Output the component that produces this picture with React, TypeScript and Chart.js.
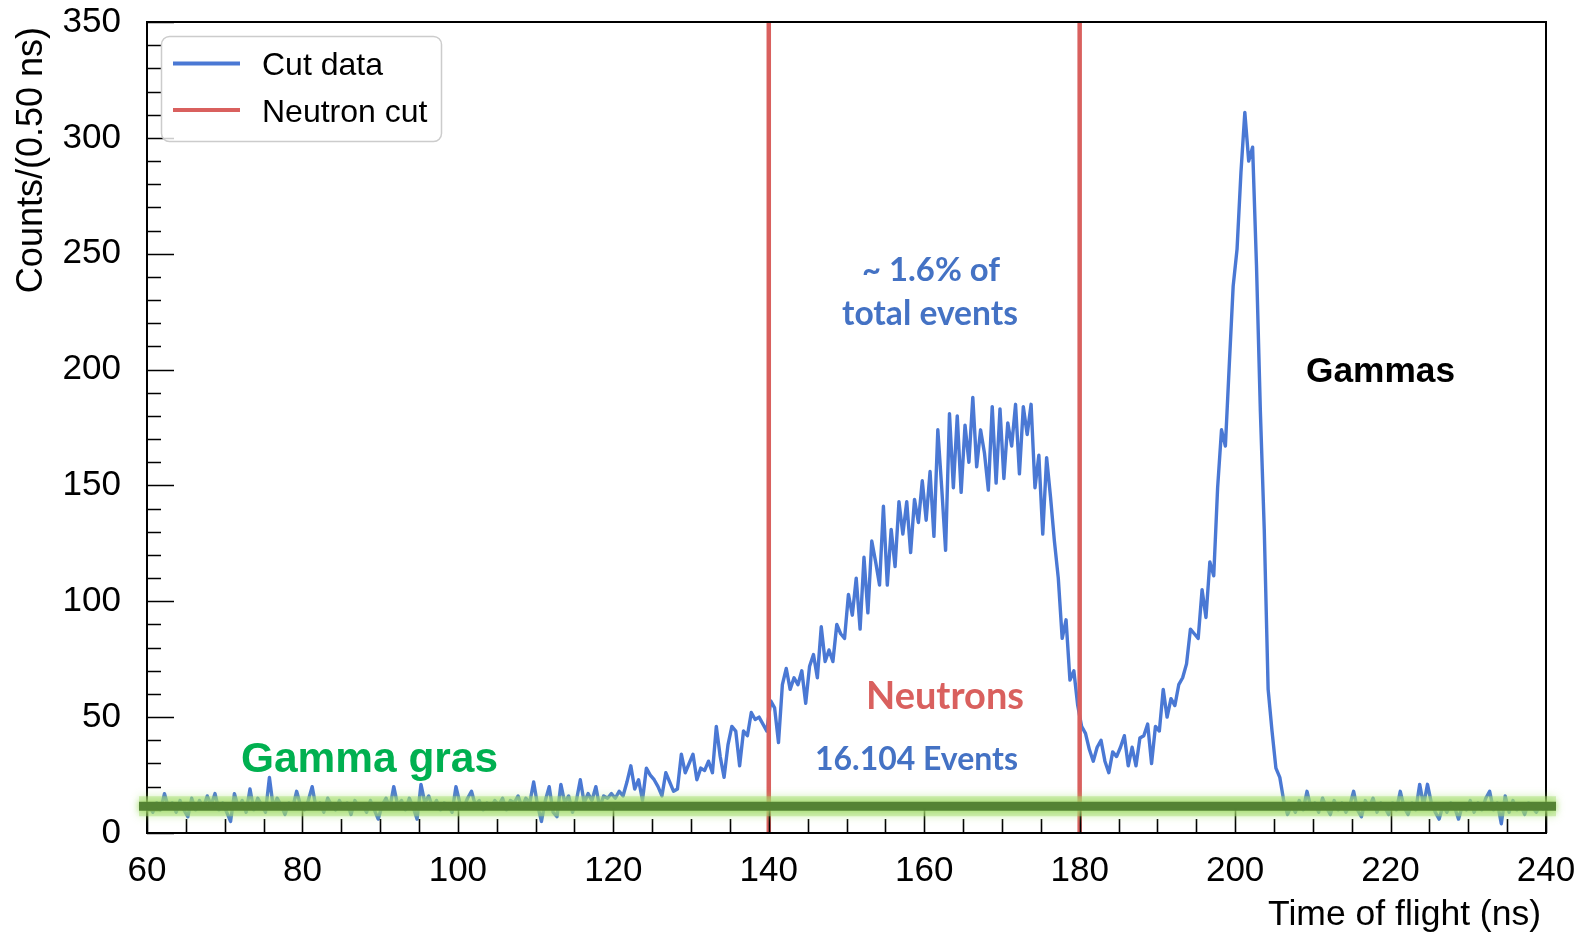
import React, { useEffect, useRef } from "react";
import { Chart, registerables } from "chart.js";

Chart.register(...registerables);

// ---------------- data ----------------
const BIN_START = 60; // ns
const BIN_WIDTH = 0.5; // ns  (Counts/(0.50 ns))

const COUNTS_060_080 = [12, 9, 13, 10, 17, 11, 13, 9, 14, 10, 7, 15, 10, 14, 11, 16, 12, 17, 10, 13, 9, 5, 17, 11, 14, 9, 19, 10, 15, 12, 9, 24, 11, 15, 12, 8, 13, 11, 18, 12];
const COUNTS_080_100 = [10, 14, 20, 11, 13, 9, 15, 12, 10, 14, 11, 13, 8, 14, 11, 12, 9, 14, 10, 6, 12, 15, 11, 20, 12, 14, 10, 15, 11, 6, 21, 13, 16, 11, 14, 10, 13, 12, 9, 20];
const COUNTS_100_120 = [13, 11, 15, 18, 12, 14, 10, 13, 11, 14, 12, 15, 10, 14, 13, 16, 11, 15, 13, 22, 12, 5, 14, 20, 9, 7, 21, 13, 16, 9, 14, 23, 13, 17, 14, 20, 11, 16, 15, 17];
const COUNTS_120_140 = [15, 18, 16, 22, 29, 19, 23, 14, 28, 25, 23, 20, 16, 26, 22, 18, 19, 34, 26, 30, 34, 23, 28, 27, 31, 26, 46, 33, 24, 38, 46, 44, 29, 44, 42, 52, 49, 50, 47, 44];
const COUNTS_140_160 = [57, 54, 39, 64, 71, 62, 67, 64, 70, 56, 72, 77, 67, 89, 74, 79, 74, 90, 86, 84, 103, 94, 110, 88, 119, 95, 126, 117, 107, 141, 107, 131, 115, 143, 129, 143, 121, 144, 134, 152];
const COUNTS_160_180 = [135, 156, 128, 174, 149, 122, 181, 149, 180, 147, 176, 160, 188, 158, 174, 164, 148, 184, 151, 183, 153, 177, 167, 185, 155, 184, 172, 185, 149, 163, 129, 162, 145, 126, 110, 84, 92, 66, 70, 55];
const COUNTS_180_200 = [46, 43, 36, 31, 37, 40, 31, 26, 35, 33, 37, 42, 29, 37, 29, 41, 42, 47, 30, 46, 44, 62, 50, 58, 55, 64, 67, 73, 88, 86, 84, 105, 93, 117, 111, 149, 174, 167, 202, 236];
const COUNTS_200_220 = [252, 285, 311, 290, 296, 245, 182, 131, 62, 44, 28, 24, 14, 8, 12, 9, 14, 10, 18, 11, 13, 9, 15, 11, 8, 14, 10, 13, 9, 12, 18, 10, 7, 14, 11, 15, 9, 13, 11, 8];
const COUNTS_220_240 = [13, 10, 18, 11, 8, 13, 10, 21, 12, 21, 13, 9, 6, 12, 9, 13, 11, 6, 12, 10, 14, 9, 13, 10, 15, 18, 10, 13, 4, 16, 9, 14, 10, 12, 8, 13, 11, 9, 12, 10];

const COUNTS = [
  ...COUNTS_060_080, ...COUNTS_080_100, ...COUNTS_100_120,
  ...COUNTS_120_140, ...COUNTS_140_160, ...COUNTS_160_180,
  ...COUNTS_180_200, ...COUNTS_200_220, ...COUNTS_220_240,
];

const CUT_EDGES = [140, 180]; // ns, neutron cut
const X_MIN = 60, X_MAX = 240, Y_MIN = 0, Y_MAX = 350;
const X_MAJOR_TICKS = [60, 80, 100, 120, 140, 160, 180, 200, 220, 240];
const X_MINOR_TICKS = [65, 70, 75, 85, 90, 95, 105, 110, 115, 125, 130, 135, 145, 150, 155, 165, 170, 175, 185, 190, 195, 205, 210, 215, 225, 230, 235];
const Y_MAJOR_TICKS = [0, 50, 100, 150, 200, 250, 300, 350];
const Y_MINOR_TICKS = [10, 20, 30, 40, 60, 70, 80, 90, 110, 120, 130, 140, 160, 170, 180, 190, 210, 220, 230, 240, 260, 270, 280, 290, 310, 320, 330, 340];
const GAMMA_BAND_LEVEL = 11.5; // counts, flat gamma background

const SERIES_LABELS = ["Cut data", "Neutron cut"];
const X_TITLE = "Time of flight (ns)";
const Y_TITLE = "Counts/(0.50 ns)";

// ---------------- styles ----------------
const BLUE = "#4a78d4";
const RED = "#d9605e";
const TEXT_BLUE = "#4472c4";
const GREEN_TEXT = "#00b050";
const SANS = "'Liberation Sans', Arial, sans-serif";
const CAL = "Lato, 'Open Sans', sans-serif";

function fitFont(ctx: CanvasRenderingContext2D, text: string, weight: string, family: string, width: number) {
  ctx.font = `${weight} 40px ${family}`;
  const w = ctx.measureText(text).width;
  const size = (40 * width) / w;
  return `${weight} ${size.toFixed(2)}px ${family}`;
}

const overlayPlugin = {
  id: "overlay",
  afterDatasetsDraw(chart: any) {
    const { ctx, chartArea: a, scales } = chart;
    const x = scales.x, y = scales.y;
    ctx.save();

    // tick marks (inside)
    ctx.strokeStyle = "#000";
    ctx.lineWidth = 1.6;
    ctx.beginPath();
    for (const v of X_MAJOR_TICKS) {
      const px = Math.round(x.getPixelForValue(v)) + 0.5;
      ctx.moveTo(px, a.bottom); ctx.lineTo(px, a.bottom - 27);
    }
    for (const v of X_MINOR_TICKS) {
      const px = Math.round(x.getPixelForValue(v)) + 0.5;
      ctx.moveTo(px, a.bottom); ctx.lineTo(px, a.bottom - 14);
    }
    for (const v of Y_MAJOR_TICKS) {
      const py = Math.round(y.getPixelForValue(v)) + 0.5;
      ctx.moveTo(a.left, py); ctx.lineTo(a.left + 27, py);
    }
    for (const v of Y_MINOR_TICKS) {
      const py = Math.round(y.getPixelForValue(v)) + 0.5;
      ctx.moveTo(a.left, py); ctx.lineTo(a.left + 14, py);
    }
    ctx.stroke();

    // frame
    ctx.lineWidth = 2;
    ctx.strokeRect(a.left, a.top, a.right - a.left, a.bottom - a.top);

    // green gamma background band (glow + dark core)
    const yb = y.getPixelForValue(GAMMA_BAND_LEVEL);
    const x0 = a.left - 8, x1 = a.right + 10;
    ctx.save();
    ctx.lineCap = "butt";
    ctx.shadowColor = "rgba(160,220,100,0.9)";
    ctx.shadowBlur = 8;
    ctx.strokeStyle = "rgba(165,220,110,0.45)";
    ctx.lineWidth = 20;
    ctx.beginPath(); ctx.moveTo(x0, yb); ctx.lineTo(x1, yb); ctx.stroke();
    ctx.shadowBlur = 6;
    ctx.strokeStyle = "rgba(82,128,50,0.97)";
    ctx.lineWidth = 9;
    ctx.beginPath(); ctx.moveTo(x0, yb); ctx.lineTo(x1, yb); ctx.stroke();
    ctx.restore();

    // axis titles
    ctx.fillStyle = "#000";
    ctx.font = `35.5px ${SANS}`;
    ctx.textAlign = "right";
    ctx.textBaseline = "alphabetic";
    ctx.fillText(X_TITLE, a.right - 5, 925);
    ctx.save();
    ctx.translate(42, 27);
    ctx.rotate(-Math.PI / 2);
    ctx.font = `36px ${SANS}`;
    ctx.textAlign = "right";
    ctx.fillText(Y_TITLE, 0, 0);
    ctx.restore();

    // annotations
    ctx.textAlign = "center";
    const notes = [
      { t: "~ 1.6% of", c: TEXT_BLUE, f: CAL, w: 138, cx: 931, by: 281 },
      { t: "total events", c: TEXT_BLUE, f: CAL, w: 176, cx: 930, by: 324.5 },
      { t: "Neutrons", c: RED, f: CAL, w: 158, cx: 945, by: 709 },
      { t: "16.104 Events", c: TEXT_BLUE, f: CAL, w: 203, cx: 916.5, by: 770 },
      { t: "Gamma gras", c: GREEN_TEXT, f: SANS, w: 257, cx: 369.5, by: 772 },
      { t: "Gammas", c: "#000", f: SANS, w: 149, cx: 1380.5, by: 382 },
    ];
    for (const n of notes) {
      ctx.font = fitFont(ctx, n.t, "bold", n.f, n.w);
      ctx.fillStyle = n.c;
      ctx.fillText(n.t, n.cx, n.by);
    }

    // legend
    const lx = 161.5, ly = 36.5, lw = 280, lh = 105, r = 8;
    ctx.beginPath();
    ctx.moveTo(lx + r, ly);
    ctx.arcTo(lx + lw, ly, lx + lw, ly + lh, r);
    ctx.arcTo(lx + lw, ly + lh, lx, ly + lh, r);
    ctx.arcTo(lx, ly + lh, lx, ly, r);
    ctx.arcTo(lx, ly, lx + lw, ly, r);
    ctx.closePath();
    ctx.fillStyle = "rgba(255,255,255,0.8)";
    ctx.fill();
    ctx.strokeStyle = "#cccccc";
    ctx.lineWidth = 1.5;
    ctx.stroke();
    const ds = chart.data.datasets;
    const entries = [
      { label: ds[1].label, color: ds[1].borderColor, yl: 63.5, yb: 75 },
      { label: ds[0].label, color: ds[0].borderColor, yl: 110, yb: 121.5 },
    ];
    ctx.textAlign = "left";
    ctx.font = `32px ${SANS}`;
    for (const e of entries) {
      ctx.strokeStyle = e.color;
      ctx.lineWidth = 4;
      ctx.beginPath(); ctx.moveTo(173, e.yl); ctx.lineTo(240, e.yl); ctx.stroke();
      ctx.fillStyle = "#000";
      ctx.fillText(e.label, 262, e.yb);
    }
    ctx.restore();
  },
};

function zeroPadding(s: any) {
  s.paddingTop = 0; s.paddingBottom = 0; s.paddingLeft = 0; s.paddingRight = 0;
}

export default function App() {
  const ref = useRef<HTMLCanvasElement | null>(null);
  useEffect(() => {
    if (!ref.current) return;
    const points = COUNTS.map((c, i) => ({ x: BIN_START + BIN_WIDTH * (i + 0.5), y: c }));
    const cutPoints: any[] = [];
    CUT_EDGES.forEach((e, k) => {
      if (k > 0) cutPoints.push({ x: e, y: null });
      cutPoints.push({ x: e, y: Y_MIN }, { x: e, y: Y_MAX });
    });
    const tickFont = { family: "'Liberation Sans', Arial, sans-serif", size: 35 };
    const chart = new Chart(ref.current, {
      type: "line",
      data: {
        datasets: [
          {
            label: SERIES_LABELS[1],
            data: cutPoints,
            borderColor: RED,
            borderWidth: 4.5,
            pointRadius: 0,
            spanGaps: false,
            order: 0,
          },
          {
            label: SERIES_LABELS[0],
            data: points,
            borderColor: BLUE,
            borderWidth: 3.4,
            borderJoinStyle: "round",
            pointRadius: 0,
            tension: 0,
            order: 1,
          },
        ],
      } as any,
      options: {
        responsive: false,
        animation: false,
        events: [],
        layout: { padding: { top: 22, right: 41, left: 0, bottom: 0 } },
        plugins: { legend: { display: false }, tooltip: { enabled: false } },
        scales: {
          x: {
            type: "linear",
            min: X_MIN,
            max: X_MAX,
            afterBuildTicks: (s: any) => { s.ticks = X_MAJOR_TICKS.map((v) => ({ value: v })); },
            afterFit: (s: any) => { s.height = 103; zeroPadding(s); },
            grid: { display: false, drawTicks: false },
            border: { display: false },
            ticks: { padding: 17, font: tickFont, color: "#000", maxRotation: 0, autoSkip: false, callback: (v: any) => String(v) },
          },
          y: {
            type: "linear",
            min: Y_MIN,
            max: Y_MAX,
            afterBuildTicks: (s: any) => { s.ticks = Y_MAJOR_TICKS.map((v) => ({ value: v })); },
            afterFit: (s: any) => { s.width = 147; zeroPadding(s); },
            grid: { display: false, drawTicks: false },
            border: { display: false },
            ticks: { padding: 26, font: tickFont, color: "#000", autoSkip: false, callback: (v: any) => String(v) },
          },
        },
      } as any,
      plugins: [overlayPlugin],
    });
    return () => chart.destroy();
  }, []);
  return (
    <div style={{ position: "fixed", left: 0, top: 0, width: 1587, height: 936, background: "#fff" }}>
      <canvas ref={ref} width={1587} height={936} style={{ display: "block", width: 1587, height: 936 }} />
    </div>
  );
}
